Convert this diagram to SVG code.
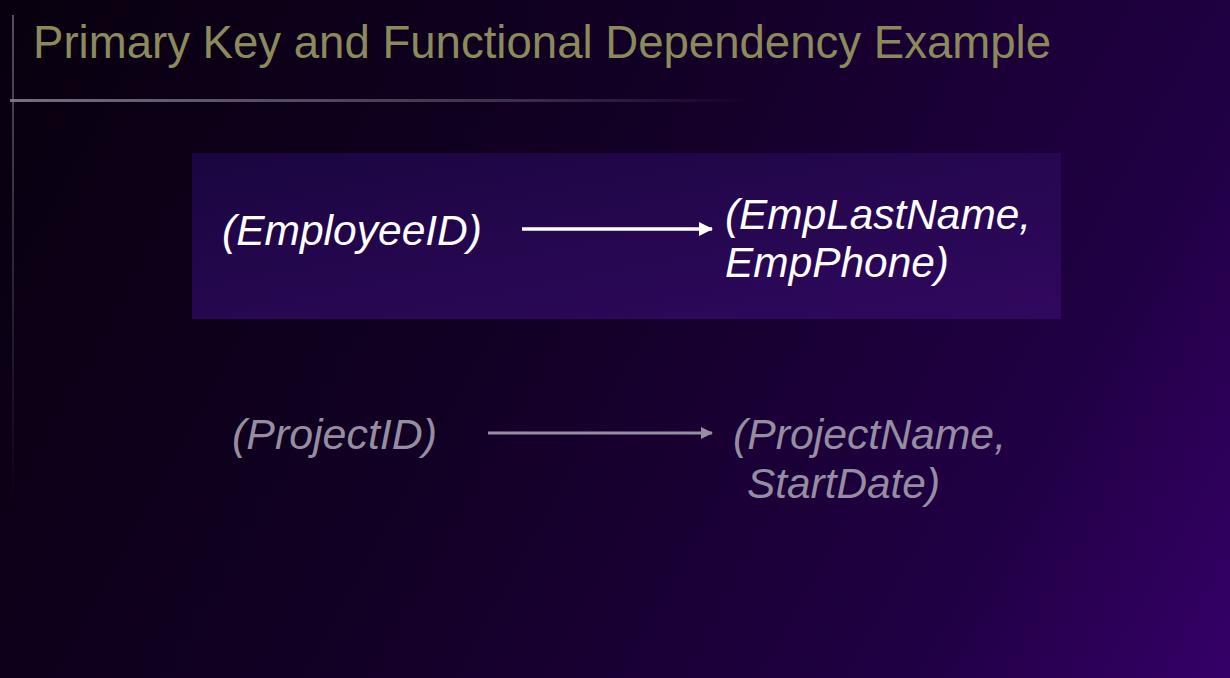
<svg xmlns="http://www.w3.org/2000/svg" width="1230" height="678" viewBox="0 0 1230 678">
  <defs>
    <linearGradient id="bg" x1="0" y1="0" x2="1230" y2="678" gradientUnits="userSpaceOnUse">
      <stop offset="0" stop-color="#08000e"/>
      <stop offset="0.45" stop-color="#130026"/>
      <stop offset="0.8" stop-color="#200044"/>
      <stop offset="1" stop-color="#350068"/>
    </linearGradient>
    <linearGradient id="boxFill" x1="0" y1="0" x2="1" y2="1">
      <stop offset="0" stop-color="#1a0640"/>
      <stop offset="1" stop-color="#31085f"/>
    </linearGradient>
    <linearGradient id="rule" x1="0" y1="0" x2="1" y2="0">
      <stop offset="0" stop-color="#8a8296" stop-opacity="0.85"/>
      <stop offset="0.7" stop-color="#8a8296" stop-opacity="0.35"/>
      <stop offset="1" stop-color="#8a8296" stop-opacity="0"/>
    </linearGradient>
    <linearGradient id="vrule" x1="0" y1="0" x2="0" y2="1">
      <stop offset="0" stop-color="#8a8296" stop-opacity="0.6"/>
      <stop offset="1" stop-color="#8a8296" stop-opacity="0"/>
    </linearGradient>
    <marker id="headWhite" markerWidth="14" markerHeight="14" refX="13" refY="7" orient="auto" markerUnits="userSpaceOnUse">
      <path d="M0,0 L14,7 L0,14 Z" fill="#ffffff"/>
    </marker>
    <marker id="headGray" markerWidth="12" markerHeight="12" refX="11" refY="6" orient="auto" markerUnits="userSpaceOnUse">
      <path d="M0,0 L12,6 L0,12 Z" fill="#978da3"/>
    </marker>
  </defs>
  <style>
    .title { font-family: "Liberation Sans", Arial, sans-serif; font-size: 47px; fill: #8c8a5c; }
    .lbl { font-family: "Liberation Sans", Arial, sans-serif; font-style: italic; font-size: 42px; }
    .on { fill: #ffffff; }
    .off { fill: #978da3; }
  </style>

  <!-- backdrop -->
  <rect x="0" y="0" width="1230" height="678" fill="url(#bg)"/>

  <!-- title and rules -->
  <g id="title">
    <text class="title" x="33" y="58" textLength="1018" lengthAdjust="spacingAndGlyphs">Primary Key and Functional Dependency Example</text>
    <rect x="10" y="99" width="740" height="3" fill="url(#rule)"/>
    <rect x="12" y="15" width="2" height="490" fill="url(#vrule)"/>
  </g>

  <!-- highlighted dependency -->
  <g id="highlight">
    <rect x="192" y="153" width="869" height="166" fill="url(#boxFill)"/>
  </g>

  <g id="employeeId">
    <text class="lbl on" x="222" y="245" textLength="260" lengthAdjust="spacingAndGlyphs">(EmployeeID)</text>
  </g>
  <g id="employeeAttrs">
    <text class="lbl on" x="725" y="229" textLength="306" lengthAdjust="spacingAndGlyphs">(EmpLastName,</text>
    <text class="lbl on" x="725" y="277" textLength="224" lengthAdjust="spacingAndGlyphs">EmpPhone)</text>
  </g>

  <g id="projectId">
    <text class="lbl off" x="232" y="449" textLength="205" lengthAdjust="spacingAndGlyphs">(ProjectID)</text>
  </g>
  <g id="projectAttrs">
    <text class="lbl off" x="733" y="449" textLength="273" lengthAdjust="spacingAndGlyphs">(ProjectName,</text>
    <text class="lbl off" x="747" y="498" textLength="193" lengthAdjust="spacingAndGlyphs">StartDate)</text>
  </g>

  <!-- connectors -->
  <g id="connectors">
    <line x1="522" y1="229" x2="712" y2="229" stroke="#ffffff" stroke-width="3.5" marker-end="url(#headWhite)"/>
    <line x1="488" y1="433" x2="712" y2="433" stroke="#978da3" stroke-width="3" marker-end="url(#headGray)"/>
  </g>
</svg>
